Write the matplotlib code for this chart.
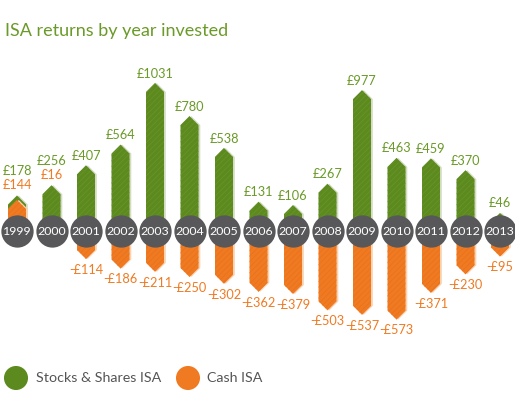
import numpy as np
import matplotlib.pyplot as plt
from matplotlib.patches import Polygon

plt.rcParams['font.family'] = ['Lato', 'DejaVu Sans']
plt.rcParams['hatch.linewidth'] = 0.5

years = ['1999', '2000', '2001', '2002', '2003', '2004', '2005', '2006',
         '2007', '2008', '2009', '2010', '2011', '2012', '2013']
stocks = [178, 256, 407, 564, 1031, 780, 538, 131, 106, 267, 977, 463, 459, 370, 46]
cash = [144, 16, -114, -186, -211, -250, -302, -362, -379, -503, -537, -573, -371, -230, -95]

green = '#5c8a1e'
green_txt = '#6a9a28'
orange = '#f07a22'
grey = '#58585a'

W, H = 515, 397
U = 7.58          # value units per pixel
SP = 34.5         # pixels between years
fig = plt.figure(figsize=(W / 100, H / 100), dpi=100)
ax = fig.add_axes([0, 0, 1, 1])
ax.set_xlim(-17 / SP, (W - 17) / SP)
ax.set_ylim(-(H - 231) * U, 231 * U)
ax.axis('off')

hw = 9 / SP       # half bar width
tip = 9 * U       # height of the pointed end
pos0 = 12 * U     # where positive values start (above circle centre)
neg0 = -13 * U


def arrow_bar(x, v, color, hatch_col, shade, z):
    if v >= 0:
        end = pos0 + v
        sh = max(end - tip, 0)
    else:
        end = neg0 + v
        sh = min(end + tip, 0)
    pts = [(x - hw, 0), (x - hw, sh), (x, end), (x + hw, sh), (x + hw, 0)]
    dx = 1.8 / SP
    ax.add_patch(Polygon([(px + dx, py) for px, py in pts], closed=True,
                         facecolor=shade, edgecolor='none', zorder=z - 0.5))
    ax.add_patch(Polygon(pts, closed=True, facecolor=color, edgecolor=hatch_col,
                         linewidth=0, hatch='//////', zorder=z))


xs = np.arange(len(years))
for i, (s, c) in enumerate(zip(stocks, cash)):
    arrow_bar(i, s, green, '#68962a', '#d3dcc2', 2)
    arrow_bar(i, c, orange, '#e8711c', '#f9d2b0', 3)
    top = pos0 + s
    if c >= 0:
        ax.annotate(f'£{c}', (i, top), xytext=(0, 3), textcoords='offset points',
                    ha='center', va='bottom', color=orange, fontsize=9.2)
        ax.annotate(f'£{s}', (i, top), xytext=(0, 13), textcoords='offset points',
                    ha='center', va='bottom', color=green_txt, fontsize=9.2)
    else:
        ax.annotate(f'£{s}', (i, top), xytext=(0, 2.5), textcoords='offset points',
                    ha='center', va='bottom', color=green_txt, fontsize=9.2)
        ax.annotate(f'-£{-c}', (i, neg0 + c), xytext=(0, -3.5), textcoords='offset points',
                    ha='center', va='top', color=orange, fontsize=9.2)

ax.scatter(xs, np.zeros(len(xs)), s=540, color=grey, zorder=5, linewidths=0)
for i, y in enumerate(years):
    ax.text(i, 0, y, ha='center', va='center', color='white', fontsize=8.9,
            zorder=6)

ax.text(5 / W, 1 - 31 / H, 'ISA returns by year invested', transform=ax.transAxes,
        ha='left', va='center', color=green_txt, fontsize=13)

ax.scatter([16 / W, 188 / W], [1 - 378 / H] * 2, s=300, color=[green, orange],
           transform=ax.transAxes, linewidths=0, zorder=5, clip_on=False)
ax.text(36 / W, 1 - 378 / H, 'Stocks & Shares ISA', transform=ax.transAxes,
        ha='left', va='center', color='#555555', fontsize=10.3)
ax.text(207 / W, 1 - 378 / H, 'Cash ISA', transform=ax.transAxes,
        ha='left', va='center', color='#555555', fontsize=10.3)

fig.savefig('out.png', dpi=100)
